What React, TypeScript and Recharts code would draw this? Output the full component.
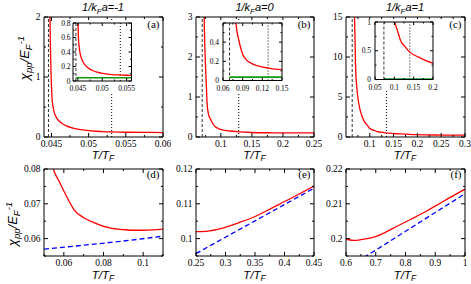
import React from 'react'
import { LineChart, Line, XAxis, YAxis, ReferenceLine } from 'recharts'

const sans = '"Liberation Sans", Arial, sans-serif'
const serif = '"Liberation Serif", "Times New Roman", serif'

// 1/kFa = -1  -> panels (a), (d)
const tA = [0.0447, 0.04475, 0.0448, 0.04485, 0.0449, 0.04495, 0.045, 0.0451, 0.0453, 0.0456, 0.046, 0.0465, 0.047, 0.048, 0.049, 0.05, 0.051, 0.052, 0.053, 0.054, 0.055, 0.0575, 0.06, 0.0626, 0.065, 0.0701, 0.0751, 0.0835, 0.09, 0.0952, 0.1, 0.105, 0.11]
const chiA = [3.2, 2.5, 2.0, 1.6, 1.3, 1.05, 0.88, 0.62, 0.45, 0.34, 0.27, 0.22, 0.185, 0.145, 0.122, 0.106, 0.096, 0.089, 0.0845, 0.0815, 0.0795, 0.0766, 0.0737, 0.0708, 0.0684, 0.066, 0.0646, 0.063, 0.0626, 0.0624, 0.0624, 0.0625, 0.0627]
const tBlueA = [0.05, 0.07, 0.09, 0.11]
const chiBlueA = [0.057, 0.0581, 0.0593, 0.0607]
const tGreenA = [0.0446, 0.056]
const chiGreenA = [0.045, 0.045]
const tcA = 0.0446
const tStarA = 0.0531
const tStarInA = 0.0537

// 1/kFa = 0  -> panels (b), (e)
const tB = [0.0722, 0.0728, 0.0735, 0.075, 0.0765, 0.078, 0.08, 0.0842, 0.0897, 0.095, 0.1047, 0.115, 0.129, 0.15, 0.175, 0.2, 0.225, 0.25, 0.267, 0.295, 0.323, 0.352, 0.38, 0.408, 0.45]
const chiB = [4.2, 3.4, 2.7, 1.9, 1.35, 0.8, 0.58, 0.42, 0.28, 0.22, 0.174, 0.15, 0.13, 0.113, 0.106, 0.1033, 0.1022, 0.102, 0.1021, 0.103, 0.1046, 0.1065, 0.1089, 0.1113, 0.1151]
const tBlueB = [0.25, 0.3, 0.35, 0.4, 0.45]
const chiBlueB = [0.0957, 0.1004, 0.1051, 0.1098, 0.1145]
const tGreenB = [0.07, 0.15]
const chiGreenB = [0.035, 0.035]
const tcB = 0.07
const tStarB = 0.1288

// 1/kFa = 1  -> panels (c), (f)
const tC = [0.067, 0.068, 0.07, 0.073, 0.076, 0.08, 0.085, 0.09, 0.095, 0.1, 0.108, 0.116, 0.129, 0.14, 0.163, 0.197, 0.25, 0.3, 0.35, 0.4, 0.45, 0.5, 0.55, 0.6, 0.626, 0.65, 0.704, 0.761, 0.817, 0.873, 0.929, 1.0]
const chiC = [20, 15, 9, 6, 4.5, 3.3, 2.4, 1.8, 1.45, 1.05, 0.855, 0.68, 0.562, 0.476, 0.389, 0.291, 0.245, 0.225, 0.215, 0.208, 0.204, 0.2015, 0.2002, 0.1998, 0.1995, 0.1997, 0.2007, 0.2031, 0.2055, 0.208, 0.2108, 0.2142]
const tBlueC = [0.66, 0.7, 0.8, 0.9, 1.0]
const chiBlueC = [0.1946, 0.1967, 0.2021, 0.2075, 0.2129]
const tGreenC = [0.073, 0.2]
const chiGreenC = [0.008, 0.008]
const tcC = 0.063
const tcInC = 0.073
const tStarC = 0.135
const tStarInC = 0.14

const couplings = ['-1', '0', '1']
const panelTags = ['(a)', '(b)', '(c)', '(d)', '(e)', '(f)']

const RED = '#ff0000'
const BLUE = '#0000ff'
const GREEN = '#109a10'

const rows = (xs: number[], ys: number[]) => xs.map((T, i) => ({ T, v: ys[i] }))

const minorOf = (maj: number[], lo: number, hi: number) => {
  const step = maj[1] - maj[0]
  const out: number[] = []
  for (let v = maj[0] - step / 2; v <= hi + 1e-12; v += step) if (v >= lo - 1e-12) out.push(v)
  return out
}

const near = (list: number[], v: number) => list.find(m => Math.abs(m - v) < 1e-9)

const mkTick = (side: string, major: number[], shown: number[], fs: number, tl: number, off: number) => (p: any) => {
  const { x, y } = p
  const v = p.payload.value
  const len = near(major, v) !== undefined ? tl : tl / 2
  const lab = near(shown, v)
  const st = { fontFamily: serif, fontSize: fs, fill: '#000' }
  let ln = null, tx = null
  if (side === 'bottom') {
    ln = <line x1={x} x2={x} y1={y} y2={y - len} stroke="#000" />
    if (lab !== undefined) tx = <text x={x} y={y + off} textAnchor="middle" style={st}>{String(lab)}</text>
  } else if (side === 'top') {
    ln = <line x1={x} x2={x} y1={y} y2={y + len} stroke="#000" />
  } else if (side === 'left') {
    ln = <line x1={x} x2={x + len} y1={y} y2={y} stroke="#000" />
    if (lab !== undefined) tx = <text x={x - off} y={y + fs * 0.34} textAnchor="end" style={st}>{String(lab)}</text>
  } else {
    ln = <line x1={x} x2={x - len} y1={y} y2={y} stroke="#000" />
  }
  return <g>{ln}{tx}</g>
}

type Ser = { x: number[], y: number[], color: string, dash?: string, w?: number }
type Ref = { x: number, dash: string, color: string }

const Plot: React.FC<{
  x: number, y: number, w: number, h: number
  pad: number[]
  xd: number[], yd: number[]
  xt: number[], yt: number[], xl?: number[], yl?: number[]
  fs: number, tl: number, xoff: number, yoff: number
  series: Ser[], refs: Ref[], bg?: string
}> = (p) => {
  const [l, r, t, b] = p.pad
  const W = p.w + l + r, H = p.h + t + b
  const xAll = [...p.xt, ...minorOf(p.xt, p.xd[0], p.xd[1])].filter(v => v >= p.xd[0] - 1e-12 && v <= p.xd[1] + 1e-12).sort((a, c) => a - c)
  const yAll = [...p.yt, ...minorOf(p.yt, p.yd[0], p.yd[1])].filter(v => v >= p.yd[0] - 1e-12 && v <= p.yd[1] + 1e-12).sort((a, c) => a - c)
  const xl = p.xl ?? p.xt, yl = p.yl ?? p.yt
  const ax = { stroke: '#000', strokeWidth: 1 }
  return (
    <div style={{ position: 'absolute', left: p.x - l, top: p.y - t, width: W, height: H, background: p.bg }}>
      <LineChart width={W} height={H} margin={{ top: t, right: r, left: 0, bottom: 0 }}>
        <XAxis type="number" dataKey="T" domain={p.xd} allowDataOverflow ticks={xAll} interval={0} height={b}
          tickLine={false} tickSize={0} tickMargin={0} axisLine={ax} tick={mkTick('bottom', p.xt, xl, p.fs, p.tl, p.xoff)} />
        <XAxis xAxisId="top" orientation="top" mirror type="number" dataKey="T" domain={p.xd} allowDataOverflow ticks={xAll} interval={0}
          tickLine={false} tickSize={0} tickMargin={0} axisLine={ax} tick={mkTick('top', p.xt, [], p.fs, p.tl, 0)} />
        <YAxis type="number" domain={p.yd} allowDataOverflow ticks={yAll} interval={0} width={l}
          tickLine={false} tickSize={0} tickMargin={0} axisLine={ax} tick={mkTick('left', p.yt, yl, p.fs, p.tl, p.yoff)} />
        <YAxis yAxisId="right" orientation="right" mirror type="number" domain={p.yd} allowDataOverflow ticks={yAll} interval={0}
          tickLine={false} tickSize={0} tickMargin={0} axisLine={ax} tick={mkTick('right', p.yt, [], p.fs, p.tl, 0)} />
        {p.refs.map((rf, i) => (
          <ReferenceLine key={'r' + i} x={rf.x} stroke={rf.color} strokeDasharray={rf.dash} strokeWidth={1} />
        ))}
        {p.series.map((s, i) => (
          <Line key={i} data={rows(s.x, s.y)} dataKey="v" type="monotone" stroke={s.color} strokeWidth={s.w ?? 1.3}
            strokeDasharray={s.dash} dot={false} activeDot={false} isAnimationActive={false} />
        ))}
      </LineChart>
    </div>
  )
}

const redA: Ser = { x: tA, y: chiA, color: RED }
const redB: Ser = { x: tB, y: chiB, color: RED }
const redC: Ser = { x: tC, y: chiC, color: RED }
const dashed = (x: number): Ref => ({ x, dash: '3 2', color: '#333' })
const dotted = (x: number): Ref => ({ x, dash: '1 2', color: '#000' })

const mainPad = [30, 8, 4, 14]
const botPad = [30, 8, 4, 14]

const colX = [43.5, 195.5, 345.5]
const colW = [119, 118, 119]
const TOP = { y: 16.5, h: 120 }
const BOT = { y: 168.5, h: 87 }

export default function App() {
  return (
    <div style={{ position: 'absolute', left: 0, top: 0, width: 471, height: 284, background: '#fff', overflow: 'hidden' }}>
      {/* top row */}
      <Plot x={colX[0]} y={TOP.y} w={colW[0]} h={TOP.h} pad={mainPad} xd={[0.044, 0.06]} yd={[0, 2]}
        xt={[0.045, 0.05, 0.055, 0.06]} yt={[0, 1, 2]} fs={9.5} tl={4} xoff={10.3} yoff={3.5}
        series={[redA]} refs={[dashed(tcA), dotted(tStarA)]} />
      <Plot x={colX[1]} y={TOP.y} w={colW[1]} h={TOP.h} pad={mainPad} xd={[0.06, 0.25]} yd={[0, 3]}
        xt={[0.1, 0.15, 0.2, 0.25]} yt={[0, 1, 2, 3]} fs={9.5} tl={4} xoff={10.3} yoff={3.5}
        series={[redB]} refs={[dashed(tcB), dotted(tStarB)]} />
      <Plot x={colX[2]} y={TOP.y} w={colW[2]} h={TOP.h} pad={mainPad} xd={[0.05, 0.3]} yd={[0, 15]}
        xt={[0.1, 0.15, 0.2, 0.25, 0.3]} yt={[0, 5, 10, 15]} fs={9.5} tl={4} xoff={10.3} yoff={3.5}
        series={[redC]} refs={[dashed(tcC), dotted(tStarC)]} />

      {/* insets */}
      <Plot x={72.5} y={22.5} w={58.5} h={58} pad={[16, 9, 3, 12]} xd={[0.044, 0.056]} yd={[0, 0.8]} bg="#fff"
        xt={[0.045, 0.05, 0.055]} yt={[0, 0.2, 0.4, 0.6, 0.8]} fs={7.5} tl={3} xoff={10} yoff={2.5}
        series={[{ x: tGreenA, y: chiGreenA, color: GREEN, w: 1.6 }, redA]} refs={[dashed(tcA), dotted(tStarInA)]} />
      <Plot x={222.5} y={22.5} w={59} h={57.5} pad={[15, 9, 3, 12]} xd={[0.06, 0.15]} yd={[0, 0.6]} bg="#fff"
        xt={[0.06, 0.09, 0.12, 0.15]} yt={[0, 0.2, 0.4, 0.6]} yl={[0, 0.2, 0.4]} fs={7.5} tl={3} xoff={10} yoff={4}
        series={[{ x: tGreenB, y: chiGreenB, color: GREEN, w: 1.6 }, redB]} refs={[dashed(tcB), dotted(tStarB)]} />
      <Plot x={374.5} y={21.5} w={58} h={57.5} pad={[15, 9, 3, 12]} xd={[0.05, 0.2]} yd={[0, 1]} bg="#fff"
        xt={[0.05, 0.1, 0.15, 0.2]} yt={[0, 0.5, 1]} fs={7.5} tl={3} xoff={10} yoff={4}
        series={[{ x: tGreenC, y: chiGreenC, color: GREEN, w: 1.6 }, redC]} refs={[dashed(tcInC), dotted(tStarInC)]} />

      {/* bottom row */}
      <Plot x={colX[0]} y={BOT.y} w={colW[0]} h={BOT.h} pad={botPad} xd={[0.05, 0.11]} yd={[0.055, 0.08]}
        xt={[0.06, 0.08, 0.1]} yt={[0.06, 0.07, 0.08]} fs={9.5} tl={4} xoff={10.3} yoff={3.5}
        series={[{ ...redA }, { x: tBlueA, y: chiBlueA, color: BLUE, dash: '5 3' }]} refs={[]} />
      <Plot x={colX[1]} y={BOT.y} w={colW[1]} h={BOT.h} pad={botPad} xd={[0.25, 0.45]} yd={[0.095, 0.12]}
        xt={[0.25, 0.3, 0.35, 0.4, 0.45]} yt={[0.1, 0.11, 0.12]} fs={9.5} tl={4} xoff={10.3} yoff={3.5}
        series={[{ ...redB }, { x: tBlueB, y: chiBlueB, color: BLUE, dash: '5 3' }]} refs={[]} />
      <Plot x={colX[2]} y={BOT.y} w={colW[2]} h={BOT.h} pad={botPad} xd={[0.6, 1]} yd={[0.195, 0.22]}
        xt={[0.6, 0.7, 0.8, 0.9, 1]} yt={[0.2, 0.21, 0.22]} fs={9.5} tl={4} xoff={10.3} yoff={3.5}
        series={[{ ...redC }, { x: tBlueC, y: chiBlueC, color: BLUE, dash: '5 3' }]} refs={[]} />

      {/* titles and axis labels */}
      <svg width={471} height={284} style={{ position: 'absolute', left: 0, top: 0, pointerEvents: 'none' }}>
        {couplings.map((c, i) => (
          <text key={c} x={colX[i] + colW[i] / 2} y={11} textAnchor="middle" fontSize={11} fontStyle="italic" fontFamily={sans}>
            1/k<tspan dy={2.5} fontSize={8}>F</tspan><tspan dy={-2.5}>a={c}</tspan>
          </text>
        ))}
        {panelTags.map((tag, i) => (
          <text key={tag} x={colX[i % 3] + colW[i % 3] - 3} y={i < 3 ? 27.5 : 177.5} textAnchor="end" fontSize={11} fontFamily={serif}>{tag}</text>
        ))}
        {[0, 1, 2].map(i => (
          <React.Fragment key={i}>
            <text x={colX[i] + colW[i] / 2} y={158.5} textAnchor="middle" fontSize={11.5} fontStyle="italic" fontFamily={sans}>
              T/T<tspan dy={2.5} fontSize={8.5}>F</tspan>
            </text>
            <text x={colX[i] + colW[i] / 2} y={278.5} textAnchor="middle" fontSize={11.5} fontStyle="italic" fontFamily={sans}>
              T/T<tspan dy={2.5} fontSize={8.5}>F</tspan>
            </text>
          </React.Fragment>
        ))}
        {[{ x: 29, y: 58 }, { x: 17, y: 224 }].map((pos, i) => (
          <text key={i} transform={`translate(${pos.x},${pos.y}) rotate(-90)`} textAnchor="middle" fontSize={13} fontStyle="italic" fontFamily={sans}>
            χ<tspan dy={3} fontSize={9.5}>pp</tspan><tspan dy={-3}>/E</tspan><tspan dy={3} fontSize={9.5}>F</tspan><tspan dy={-8} fontSize={9.5}>-1</tspan>
          </text>
        ))}
      </svg>
    </div>
  )
}
